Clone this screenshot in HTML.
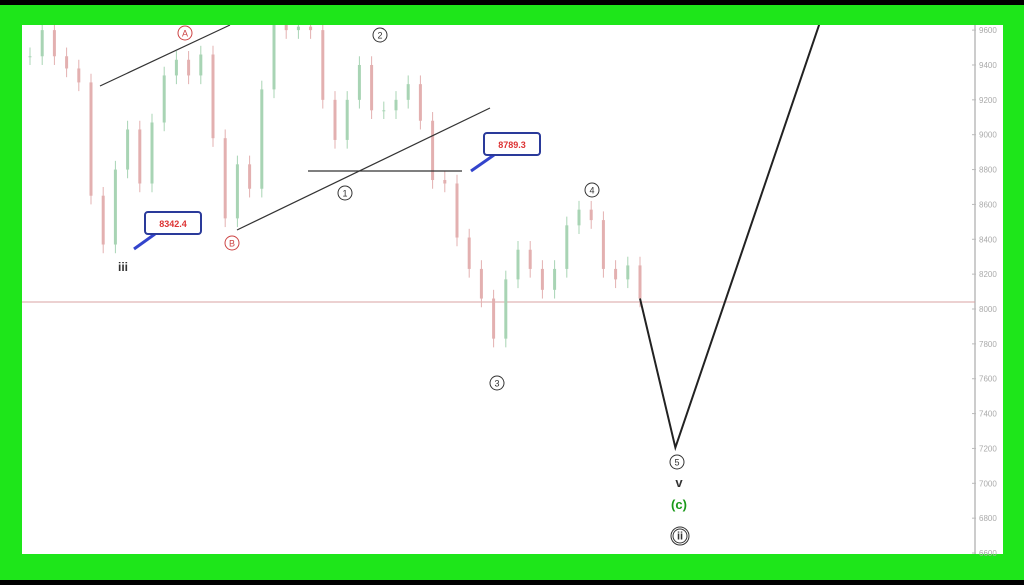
<!DOCTYPE html>
<html><head><meta charset="utf-8">
<style>
html,body{margin:0;padding:0;background:#000;}
#wrap{position:relative;width:1024px;height:585px;background:#000;overflow:hidden;font-family:"Liberation Sans",sans-serif;}
svg{position:absolute;left:0;top:0;}
</style></head>
<body>
<div id="wrap">
<svg id="chart" width="1024" height="585"></svg>
</div>
<script>
const yTicks=[9600,9400,9200,9000,8800,8600,8400,8200,8000,7800,7600,7400,7200,7000,6800,6600];
const closes=[9450,9600,9450,9380,9300,8650,8370,8800,9030,8720,9070,9340,9430,9340,9460,8980,8520,8830,8690,9260,9660,9600,9620,9600,9200,8970,9200,9400,9140,9140,9200,9290,9080,8740,8720,8410,8230,8060,7830,8170,8340,8230,8110,8230,8480,8570,8510,8230,8170,8250,8060];
const projIdx=[50,52.9,65.7];
const projPrice=[8060,7205,9840];
const refPrice=8040;

const NS="http://www.w3.org/2000/svg";
const svg=document.getElementById('chart');
function y(v){return 309-(v-8000)*0.1743;}
function x(i){return 30+i*12.2;}
function el(t,a,p){const e=document.createElementNS(NS,t);for(const k in a)e.setAttribute(k,a[k]);(p||svg).appendChild(e);return e;}

const f1=el('rect',{x:0,y:5,width:1024,height:575,fill:'#1ee61a'});


const pa=el('rect',{x:22,y:25,width:981,height:529,fill:'#fff'});



const ax=el('line',{x1:975,y1:25,x2:975,y2:554,stroke:'#bbb','stroke-width':1.5});


yTicks.forEach(v=>{
  const t=el('text',{x:979,y:y(v)+3,'font-size':8,fill:'#aaa'});t.textContent=v;
  
  
  el('line',{x1:972,y1:y(v),x2:976,y2:y(v),stroke:'#bbb'});
});

const rl=el('line',{x1:22,y1:y(refPrice),x2:975,y2:y(refPrice),stroke:'#d9a3a3','stroke-width':1});



for(let i=0;i<closes.length;i++){
  const o=i?closes[i-1]:closes[0];const c=closes[i];
  const up=c>=o;const col=up?'#a8d4b4':'#e3b0b0';
  const hi=Math.max(o,c)+50,lo=Math.min(o,c)-50;
  const g=el('g',{});
  
  
  el('line',{x1:x(i),y1:Math.max(25,y(hi)),x2:x(i),y2:y(lo),stroke:col,'stroke-width':1},g);
  const top=Math.max(25,y(Math.max(o,c)));
  el('rect',{x:x(i)-1.5,y:top,width:3,height:Math.max(1,y(Math.min(o,c))-top),fill:col},g);
}

[[100,86,230,25],[237,230,490,108],[308,171,462,171]].forEach(l=>{
  const e=el('line',{x1:l[0],y1:l[1],x2:l[2],y2:l[3],stroke:'#333','stroke-width':1.2});
  
  
});
const pts=projIdx.map((v,i)=>x(v)+','+y(projPrice[i])).join(' ');
const pl=el('polyline',{points:pts,fill:'none',stroke:'#222','stroke-width':2});


el('rect',{x:0,y:0,width:1024,height:25,fill:'#1ee61a'});
el('rect',{x:0,y:0,width:1024,height:5,fill:'#000'});
el('rect',{x:0,y:580,width:1024,height:5,fill:'#000'});
el('rect',{x:1003,y:5,width:21,height:575,fill:'#1ee61a'});

function circ(cx,cy,txt,col,name,dbl){
  const g=el('g',{});
  
  
  el('circle',{cx:cx,cy:cy,r:7,fill:'#fff',stroke:col,'stroke-width':1},g);
  if(dbl)el('circle',{cx:cx,cy:cy,r:9,fill:'none',stroke:col,'stroke-width':1},g);
  const t=el('text',{x:cx,y:cy+3.5,'text-anchor':'middle','font-size':dbl?11:9,fill:col,'font-weight':dbl?'bold':'normal'},g);t.textContent=txt;
}
circ(185,33,'A','#c44','wave-label-a');
circ(380,35,'2','#333','wave-label-2');
circ(232,243,'B','#c44','wave-label-b');
circ(345,193,'1','#333','wave-label-1');
circ(592,190,'4','#333','wave-label-4');
circ(497,383,'3','#333','wave-label-3');
circ(677,462,'5','#333','wave-label-5');
circ(680,536,'ii','#333','wave-label-ii',true);
function txt(xx,yy,s,col,size,name){const t=el('text',{x:xx,y:yy,'text-anchor':'middle','font-size':size,'font-weight':'bold',fill:col});t.textContent=s;
  
  }
txt(123,271,'iii','#333',12,'wave-label-iii');
txt(679,487,'v','#333',13,'wave-label-v');
txt(679,509,'(c)','#1a9a1a',13,'wave-label-c');

function callout(bx,by,val,tx,ty,name){
  const g=el('g',{});
  
  
  el('line',{x1:bx+10,y1:by+22,x2:tx,y2:ty,stroke:'#3344cc','stroke-width':3},g);
  el('rect',{x:bx,y:by,width:56,height:22,rx:3,fill:'#fff',stroke:'#2a3a9a','stroke-width':2},g);
  const t=el('text',{x:bx+28,y:by+15,'text-anchor':'middle','font-size':9,fill:'#d33','font-weight':'bold'},g);t.textContent=val;
}
callout(145,212,'8342.4',134,249,'low-price-callout');
callout(484,133,'8789.3',471,171,'level-price-callout');
</script>
</body></html>
